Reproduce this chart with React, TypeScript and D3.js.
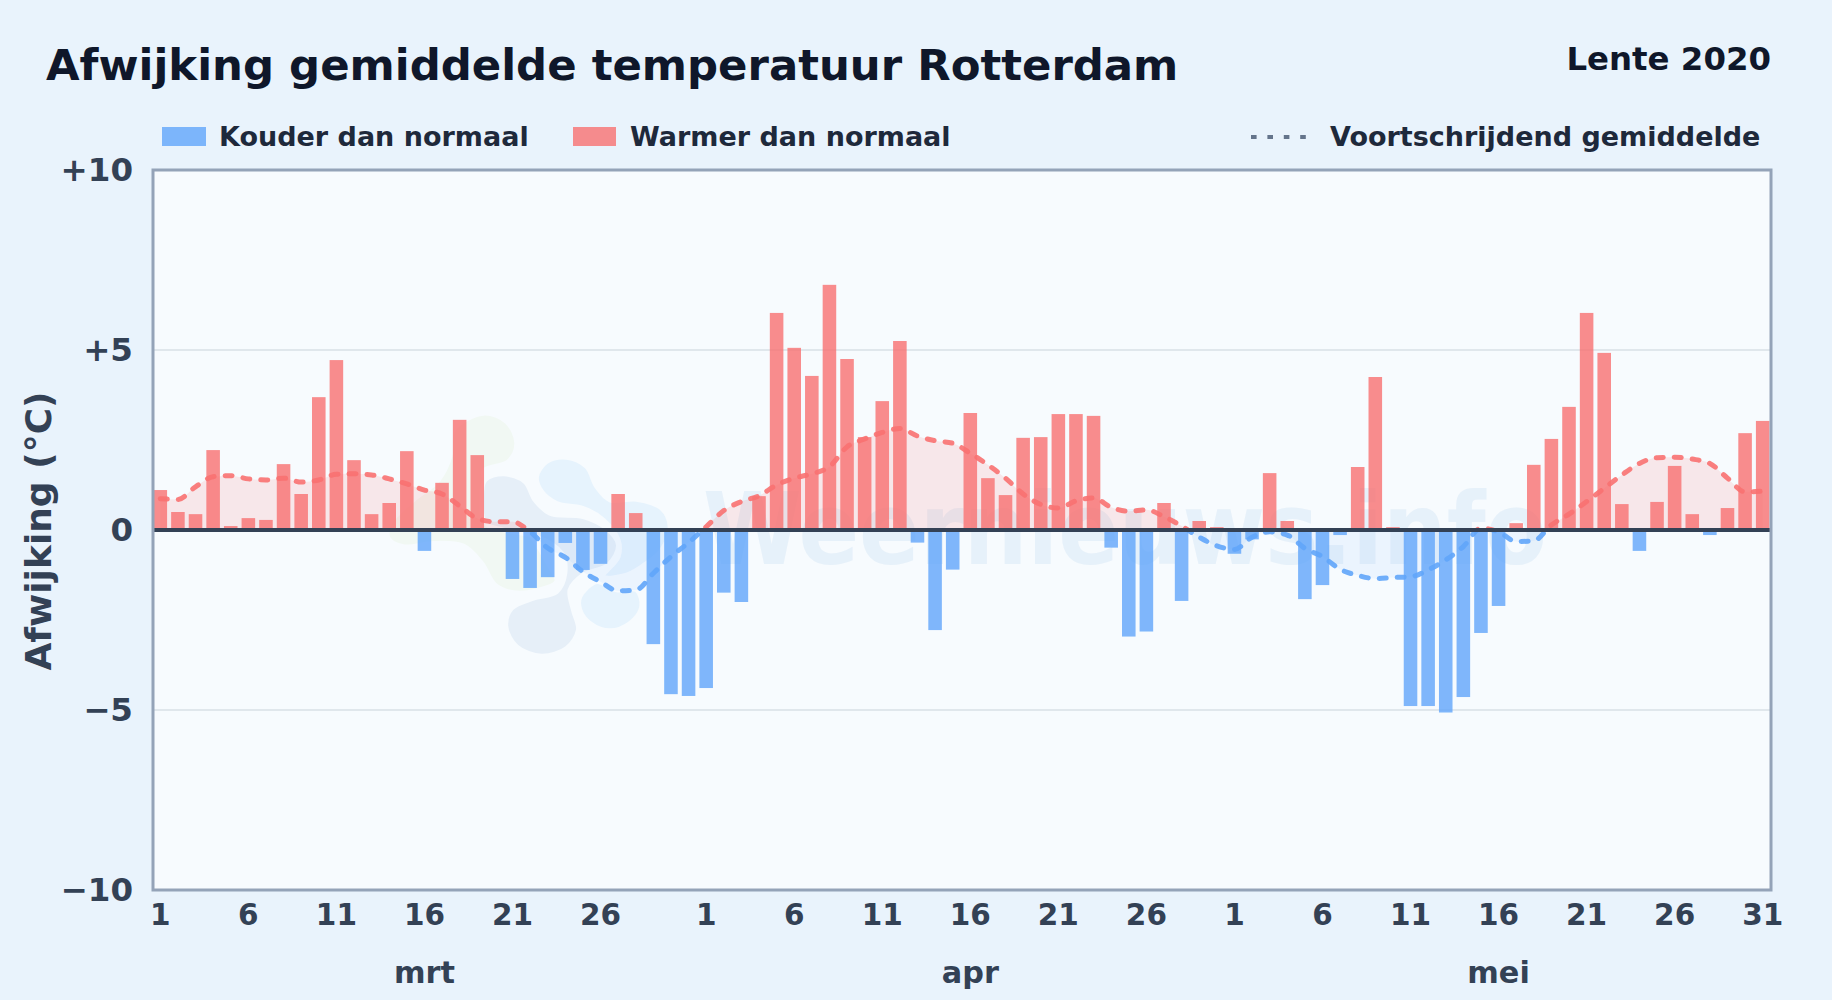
import React, { useEffect, useRef } from "react";
import * as d3 from "d3";

const FONT = "'DejaVu Sans', sans-serif";

const months = ["mrt", "apr", "mei"];
const tickDays = [
  [1, 6, 11, 16, 21, 26],
  [1, 6, 11, 16, 21, 26],
  [1, 6, 11, 16, 21, 26, 31],
];

// afwijking per dag (graden C)
const marchValues = [
  1.11, 0.5, 0.44, 2.22, 0.11, 0.33, 0.28, 1.83, 1.0, 3.69, 4.72, 1.94, 0.44, 0.75, 2.19, -0.58,
  1.31, 3.06, 2.08, 0, -1.36, -1.61, -1.31, -0.36, -1.11, -0.94, 1.0, 0.47, -3.17, -4.56, -4.61,
];
const aprilValues = [
  -4.39, -1.74, -2.0, 0.94, 6.03, 5.06, 4.28, 6.81, 4.75, 2.58, 3.58, 5.25, -0.35, -2.78, -1.1,
  3.25, 1.44, 0.97, 2.56, 2.58, 3.22, 3.22, 3.17, -0.49, -2.96, -2.82, 0.75, -1.97, 0.25, 0.08,
];
const mayValues = [
  -0.66, -0.26, 1.58, 0.25, -1.92, -1.53, -0.14, 1.75, 4.25, 0.08, -4.89, -4.89, -5.07, -4.64,
  -2.86, -2.11, 0.19, 1.81, 2.53, 3.42, 6.03, 4.92, 0.72, -0.58, 0.78, 1.78, 0.44, -0.14, 0.61,
  2.69, 3.03,
];

const marchAverage = [
  0.87, 0.85, 1.2, 1.48, 1.51, 1.42, 1.39, 1.44, 1.33, 1.39, 1.55, 1.56, 1.53, 1.42, 1.28, 1.11,
  1.0, 0.67, 0.32, 0.23, 0.23, -0.05, -0.5, -0.76, -1.16, -1.44, -1.69, -1.67, -1.2, -0.74, -0.35,
];
const aprilAverage = [
  0.09, 0.54, 0.79, 0.95, 1.25, 1.44, 1.56, 1.76, 2.31, 2.53, 2.71, 2.82, 2.61, 2.48, 2.41, 2.13,
  1.81, 1.44, 1.0, 0.71, 0.61, 0.81, 0.89, 0.63, 0.52, 0.56, 0.37, 0.11, -0.2, -0.44,
];
const mayAverage = [
  -0.54, -0.2, -0.05, -0.14, -0.51, -0.74, -1.09, -1.26, -1.35, -1.32, -1.3, -1.11, -0.83, -0.46,
  0.05, -0.05, -0.32, -0.3, 0.14, 0.44, 0.79, 1.16, 1.53, 1.85, 2.01, 2.02, 1.97, 1.85, 1.44, 1.06,
  1.08,
];

const yTicks = [10, 5, 0, -5, -10];

const COLD = "#60a5fa";
const WARM = "#f87171";
const PLOT_BG = "#f7fbfe";

// logo achter de grafiek
const logoBlobs = [
  {
    fill: "#f1f8f3",
    outline: [
      [340, 40], [410, 65], [440, 130], [415, 185], [340, 215], [400, 300], [480, 400], [540, 500],
      [560, 545], [500, 572], [430, 578], [375, 555], [335, 490], [280, 438], [190, 430], [100, 440],
      [55, 415], [60, 370], [130, 300], [205, 240], [240, 170], [250, 90],
    ],
  },
  {
    fill: "#e6eff8",
    outline: [
      [400, 222], [465, 245], [495, 300], [540, 340], [640, 350], [710, 385], [745, 435], [715, 495],
      [640, 525], [600, 570], [610, 630], [625, 690], [590, 745], [515, 768], [440, 740], [408, 680],
      [425, 625], [490, 595], [560, 575], [585, 520], [575, 460], [500, 410], [400, 390], [345, 370],
      [335, 300], [345, 240],
    ],
  },
  {
    fill: "#e6f3fd",
    outline: [
      [590, 172], [650, 200], [680, 260], [720, 300], [800, 298], [875, 325], [900, 380], [875, 450],
      [830, 490], [770, 525], [700, 530], [745, 470], [745, 420], [700, 360], [640, 325], [560, 310],
      [515, 275], [500, 230], [530, 185],
    ],
  },
  {
    fill: "#e6f3fd",
    outline: [
      [630, 590], [680, 545], [740, 570], [800, 570], [815, 620], [780, 670], [720, 692], [660, 670],
      [630, 630],
    ],
  },
];

const width = 1832;
const height = 1000;
const plot = { left: 153, right: 1771, top: 170, bottom: 890 };

const App: React.FC = () => {
  const svgRef = useRef<SVGSVGElement | null>(null);

  useEffect(() => {
    const values = [...marchValues, ...aprilValues, ...mayValues];
    const average = [...marchAverage, ...aprilAverage, ...mayAverage];
    const monthStart = [0, marchValues.length, marchValues.length + aprilValues.length];

    const x = d3
      .scaleBand<number>()
      .domain(d3.range(values.length))
      .range([plot.left - 1.5, plot.right + 0.5])
      .paddingInner(0.23)
      .paddingOuter(0.115);
    const y = d3.scaleLinear().domain([-10, 10]).range([plot.bottom, plot.top]);
    const cx = (i: number) => (x(i) as number) + x.bandwidth() / 2;

    const svg = d3.select(svgRef.current);
    svg.html("");

    svg.append("rect").attr("width", width).attr("height", height).attr("fill", "#e9f3fc");

    // Titel
    svg
      .append("text")
      .attr("x", 46)
      .attr("y", 79.5)
      .attr("fill", "#0f172a")
      .style("font-size", "43.4px")
      .style("font-weight", 700)
      .text("Afwijking gemiddelde temperatuur Rotterdam");
    svg
      .append("text")
      .attr("x", 1771)
      .attr("y", 70)
      .attr("text-anchor", "end")
      .attr("fill", "#0f172a")
      .style("font-size", "32.4px")
      .style("font-weight", 700)
      .text("Lente 2020");

    // Legenda
    const legend = svg.append("g").style("font-size", "27px").style("font-weight", 700).attr("fill", "#1e293b");
    legend.append("rect").attr("x", 162).attr("y", 127).attr("width", 44).attr("height", 19).attr("fill", COLD).attr("opacity", 0.8);
    legend.append("text").attr("x", 219).attr("y", 146).text("Kouder dan normaal");
    legend.append("rect").attr("x", 573).attr("y", 127).attr("width", 43).attr("height", 19).attr("fill", WARM).attr("opacity", 0.8);
    legend.append("text").attr("x", 630).attr("y", 146).text("Warmer dan normaal");
    legend
      .append("line")
      .attr("x1", 1251)
      .attr("x2", 1307)
      .attr("y1", 137)
      .attr("y2", 137)
      .attr("stroke", "#64748b")
      .attr("stroke-width", 4)
      .attr("stroke-dasharray", "5.6 10.8");
    legend.append("text").attr("x", 1330).attr("y", 146).text("Voortschrijdend gemiddelde");

    // Plotvlak
    svg
      .append("rect")
      .attr("x", plot.left)
      .attr("y", plot.top)
      .attr("width", plot.right - plot.left)
      .attr("height", plot.bottom - plot.top)
      .attr("fill", PLOT_BG);

    // Watermerk
    const wm = svg.append("g");
    const blobLine = d3.line().curve(d3.curveCatmullRomClosed);
    logoBlobs.forEach((b) => {
      wm.append("path")
        .attr("transform", "translate(370,400) scale(0.3333)")
        .attr("fill", b.fill)
        .attr("stroke", PLOT_BG)
        .attr("stroke-width", 14)
        .attr("d", blobLine(b.outline as [number, number][]));
    });
    wm.append("text")
      .attr("x", 703)
      .attr("y", 564)
      .attr("textLength", 844)
      .attr("lengthAdjust", "spacingAndGlyphs")
      .attr("fill", "#dcebf8")
      .attr("opacity", 0.6)
      .style("font-size", "100px")
      .style("font-weight", 700)
      .text("Weernieuws.info");

    // Rasterlijnen
    svg
      .append("g")
      .selectAll("line")
      .data([5, -5])
      .join("line")
      .attr("x1", plot.left)
      .attr("x2", plot.right)
      .attr("y1", (d) => y(d))
      .attr("y2", (d) => y(d))
      .attr("stroke", "#e0e7ec")
      .attr("stroke-width", 2);

    const defs = svg.append("defs");
    defs
      .append("clipPath")
      .attr("id", "above-zero")
      .append("rect")
      .attr("x", plot.left)
      .attr("y", plot.top)
      .attr("width", plot.right - plot.left)
      .attr("height", y(0) - plot.top);
    defs
      .append("clipPath")
      .attr("id", "below-zero")
      .append("rect")
      .attr("x", plot.left)
      .attr("y", y(0))
      .attr("width", plot.right - plot.left)
      .attr("height", plot.bottom - y(0));

    // Vlak onder het gemiddelde
    const area = d3
      .area<number>()
      .curve(d3.curveMonotoneX)
      .x((_, i) => cx(i))
      .y0(y(0))
      .y1((d) => y(d));
    const avgLine = d3
      .line<number>()
      .curve(d3.curveMonotoneX)
      .x((_, i) => cx(i))
      .y((d) => y(d));

    svg.append("path").datum(average).attr("clip-path", "url(#above-zero)").attr("fill", WARM).attr("opacity", 0.14).attr("d", area);
    svg.append("path").datum(average).attr("clip-path", "url(#below-zero)").attr("fill", COLD).attr("opacity", 0.08).attr("d", area);

    // Staven
    svg
      .append("g")
      .selectAll("rect")
      .data(values)
      .join("rect")
      .attr("x", (_, i) => x(i) as number)
      .attr("width", x.bandwidth())
      .attr("y", (d) => y(Math.max(d, 0)))
      .attr("height", (d) => Math.abs(y(d) - y(0)))
      .attr("fill", (d) => (d < 0 ? COLD : WARM))
      .attr("opacity", 0.8);

    // Lijn
    [
      { clip: "above-zero", color: WARM },
      { clip: "below-zero", color: COLD },
    ].forEach((s) => {
      svg
        .append("path")
        .datum(average)
        .attr("clip-path", `url(#${s.clip})`)
        .attr("fill", "none")
        .attr("stroke", s.color)
        .attr("stroke-width", 5)
        .attr("stroke-linecap", "round")
        .attr("stroke-dasharray", "7 11")
        .attr("opacity", 0.9)
        .attr("d", avgLine);
    });

    // Nullijn
    svg
      .append("line")
      .attr("x1", plot.left)
      .attr("x2", plot.right)
      .attr("y1", y(0))
      .attr("y2", y(0))
      .attr("stroke", "#334155")
      .attr("stroke-width", 4);

    // Kader
    svg
      .append("rect")
      .attr("x", plot.left)
      .attr("y", plot.top)
      .attr("width", plot.right - plot.left)
      .attr("height", plot.bottom - plot.top)
      .attr("fill", "none")
      .attr("stroke", "#94a3b8")
      .attr("stroke-width", 3);

    // Y-as
    const formatY = (d: number) => (d > 0 ? `+${d}` : d < 0 ? `\u2212${-d}` : "0");
    const yAxis = svg
      .append("g")
      .attr("transform", `translate(${plot.left},0)`)
      .call(d3.axisLeft(y).tickValues(yTicks).tickFormat((d) => formatY(d as number)).tickSize(0).tickPadding(20));
    yAxis.select(".domain").remove();
    yAxis.selectAll("text").attr("fill", "#334155").style("font-size", "32.5px").style("font-weight", 700).style("font-family", FONT);

    svg
      .append("text")
      .attr("transform", "translate(51,531) rotate(-90)")
      .attr("text-anchor", "middle")
      .attr("fill", "#334155")
      .style("font-size", "36px")
      .style("font-weight", 700)
      .text("Afwijking (°C)");

    // X-as: dagnummers
    const dayTicks = tickDays.flatMap((days, m) => days.map((d) => ({ index: monthStart[m] + d - 1, label: d })));
    const labels = new Map(dayTicks.map((t) => [t.index, String(t.label)]));
    const xAxis = svg
      .append("g")
      .attr("transform", `translate(0,${plot.bottom})`)
      .call(
        d3
          .axisBottom(x)
          .tickValues(dayTicks.map((t) => t.index))
          .tickFormat((d) => labels.get(d as number) ?? "")
          .tickSize(0)
          .tickPadding(14)
      );
    xAxis.select(".domain").remove();
    xAxis.selectAll("text").attr("fill", "#334155").style("font-size", "29.5px").style("font-weight", 700).style("font-family", FONT);

    // Maandnamen
    svg
      .append("g")
      .selectAll("text")
      .data(months)
      .join("text")
      .attr("x", (_, m) => cx(monthStart[m] + 15))
      .attr("y", 983)
      .attr("text-anchor", "middle")
      .attr("fill", "#334155")
      .style("font-size", "30.3px")
      .style("font-weight", 700)
      .text((d) => d);
  }, []);

  return (
    <svg
      ref={svgRef}
      width={width}
      height={height}
      style={{ position: "absolute", left: 0, top: 0, fontFamily: FONT }}
    ></svg>
  );
};

export default App;
